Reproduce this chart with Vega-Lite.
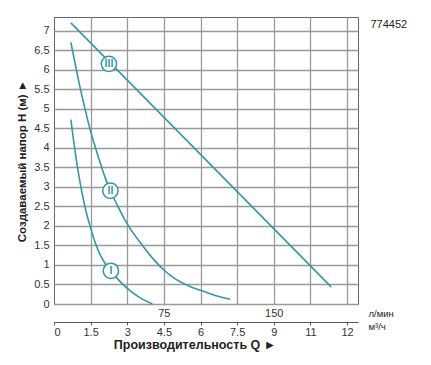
{
  "$schema": "https://vega.github.io/schema/vega-lite/v6.json",
  "width": 304,
  "height": 287,
  "autosize": "none",
  "padding": {"left": 54, "top": 17, "right": 73, "bottom": 61},
  "background": "white",
  "config": {
    "font": "Liberation Sans",
    "view": {"stroke": "#666666", "strokeWidth": 1},
    "axis": {"labelFont": "Liberation Sans", "titleFont": "Liberation Sans", "labelColor": "#333333", "titleColor": "#222222"}
  },
  "title": {
    "text": "Производительность Q ►",
    "orient": "bottom",
    "anchor": "middle",
    "dx": -11,
    "offset": 2,
    "fontSize": 12.5,
    "fontWeight": "bold",
    "color": "#222222",
    "font": "Liberation Sans"
  },
  "datasets": {
    "curves": [
      {"curve": "I", "q": 0.69, "h": 4.72},
      {"curve": "I", "q": 0.8, "h": 4.2},
      {"curve": "I", "q": 0.95, "h": 3.55},
      {"curve": "I", "q": 1.1, "h": 3.0},
      {"curve": "I", "q": 1.3, "h": 2.4},
      {"curve": "I", "q": 1.5, "h": 1.95},
      {"curve": "I", "q": 1.7, "h": 1.55},
      {"curve": "I", "q": 1.9, "h": 1.25},
      {"curve": "I", "q": 2.1, "h": 1.03},
      {"curve": "I", "q": 2.35, "h": 0.83},
      {"curve": "I", "q": 2.7, "h": 0.58},
      {"curve": "I", "q": 3.1, "h": 0.35},
      {"curve": "I", "q": 3.5, "h": 0.17},
      {"curve": "I", "q": 4.03, "h": 0.0},
      {"curve": "II", "q": 0.69, "h": 6.7},
      {"curve": "II", "q": 0.9, "h": 6.05},
      {"curve": "II", "q": 1.1, "h": 5.45},
      {"curve": "II", "q": 1.3, "h": 4.92},
      {"curve": "II", "q": 1.5, "h": 4.42},
      {"curve": "II", "q": 1.7, "h": 4.0},
      {"curve": "II", "q": 1.9, "h": 3.6},
      {"curve": "II", "q": 2.1, "h": 3.23},
      {"curve": "II", "q": 2.31, "h": 2.9},
      {"curve": "II", "q": 2.6, "h": 2.52},
      {"curve": "II", "q": 3.05, "h": 2.0},
      {"curve": "II", "q": 3.5, "h": 1.6},
      {"curve": "II", "q": 4.0, "h": 1.2},
      {"curve": "II", "q": 4.5, "h": 0.87},
      {"curve": "II", "q": 5.0, "h": 0.63},
      {"curve": "II", "q": 5.5, "h": 0.47},
      {"curve": "II", "q": 6.0, "h": 0.35},
      {"curve": "II", "q": 6.6, "h": 0.22},
      {"curve": "II", "q": 7.22, "h": 0.12},
      {"curve": "III", "q": 0.69, "h": 7.2},
      {"curve": "III", "q": 11.35, "h": 0.44}
    ],
    "labels": [
      {"curve": "I", "q": 2.33, "h": 0.85},
      {"curve": "II", "q": 2.31, "h": 2.9},
      {"curve": "III", "q": 2.25, "h": 6.15}
    ]
  },
  "resolve": {"axis": {"x": "independent", "y": "independent"}},
  "layer": [
    {
      "data": {"name": "curves"},
      "mark": {"type": "line", "interpolate": "monotone", "color": "#3796a4", "strokeWidth": 1.6},
      "encoding": {
        "detail": {"field": "curve"},
        "x": {
          "field": "q", "type": "quantitative",
          "scale": {"domain": [0, 12.45], "nice": false, "zero": false},
          "axis": {
            "orient": "bottom",
            "values": [1.5, 3, 4.5, 6, 7.5, 9, 10.5, 12],
            "labelExpr": "datum.value == 4.5 ? '75' : datum.value == 9 ? '150' : ''",
            "grid": true, "gridColor": "#999999", "gridWidth": 1.3, "gridOpacity": 1,
            "ticks": false, "domain": false,
            "labelFontSize": 11, "labelPadding": 3,
            "title": "л/мин", "titleFontSize": 9.5, "titleFontWeight": "normal",
            "titleX": 314, "titleY": 9, "titleAlign": "left", "titleBaseline": "middle"
          }
        },
        "y": {
          "field": "h", "type": "quantitative",
          "scale": {"domain": [0, 7.35], "nice": false, "zero": false},
          "axis": {
            "orient": "left",
            "values": [0, 0.5, 1, 1.5, 2, 2.5, 3, 3.5, 4, 4.5, 5, 5.5, 6, 6.5, 7],
            "format": "~g",
            "grid": true, "gridColor": "#999999", "gridWidth": 1.3, "gridOpacity": 1,
            "ticks": false, "domain": false,
            "labelFontSize": 11, "labelPadding": 5,
            "title": "Создаваемый напор H (м) ►", "titleFontSize": 11.5, "titleFontWeight": "bold", "titlePadding": 6
          }
        }
      }
    },
    {
      "data": {"name": "labels"},
      "mark": {"type": "point", "shape": "circle", "filled": true, "fill": "white", "stroke": "#3796a4", "strokeWidth": 1.5, "size": 235, "opacity": 1},
      "encoding": {
        "x": {
          "field": "q", "type": "quantitative",
          "axis": {
            "orient": "bottom", "offset": 18,
            "values": [0, 1.5, 3, 4.5, 6, 7.5, 9, 10.5, 12],
            "format": "~g",
            "grid": false, "ticks": true, "tickSize": 3, "tickColor": "#555555",
            "domain": true, "domainColor": "#555555",
            "labelFontSize": 11, "labelPadding": 1,
            "title": "м³/ч", "titleFontSize": 9.5, "titleFontWeight": "normal",
            "titleX": 314, "titleY": 4, "titleAlign": "left", "titleBaseline": "middle"
          }
        },
        "y": {
          "field": "h", "type": "quantitative",
          "axis": {
            "orient": "right", "grid": false, "ticks": false, "domain": false, "labels": false,
            "title": "774452", "titleAngle": 0, "titleFontSize": 11, "titleFontWeight": "normal",
            "titleX": 12, "titleY": 7, "titleAlign": "left", "titleBaseline": "middle"
          }
        }
      }
    },
    {
      "data": {"name": "labels"},
      "mark": {"type": "text", "color": "#3796a4", "fontSize": 10.5, "fontWeight": "bold", "baseline": "middle", "align": "center", "font": "Liberation Sans"},
      "encoding": {
        "x": {"field": "q", "type": "quantitative", "axis": null},
        "y": {"field": "h", "type": "quantitative", "axis": null},
        "text": {"field": "curve"}
      }
    }
  ]
}
